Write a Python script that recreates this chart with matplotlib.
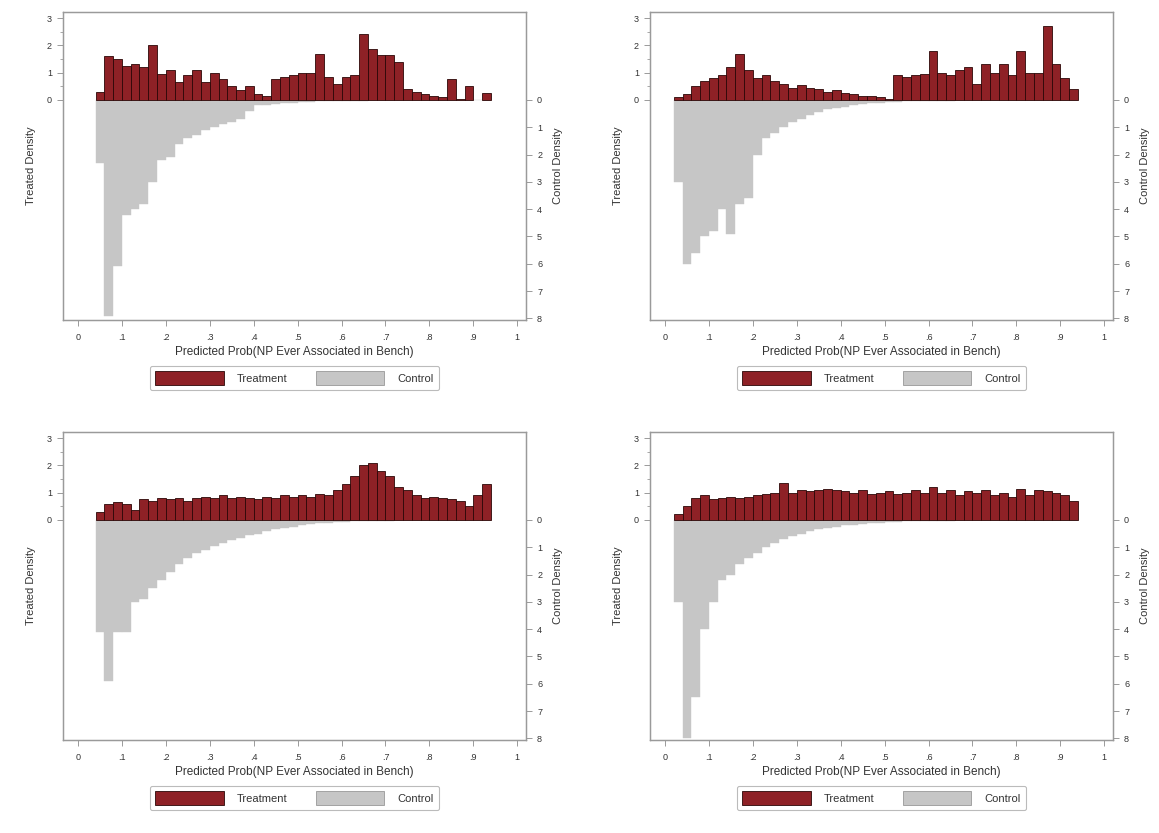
import numpy as np
import matplotlib
matplotlib.use("Agg")
import matplotlib.pyplot as plt
from matplotlib.patches import Patch

plt.rcParams['font.family'] = ['Liberation Sans', 'DejaVu Sans']

# ---------------- data ----------------
bin_width = 0.02
bin_left = np.round(np.arange(0, 1.0, bin_width), 2)   # 50 bins

x_ticks = [0, .1, .2, .3, .4, .5, .6, .7, .8, .9, 1]
x_tick_labels = ["0", ".1", ".2", ".3", ".4", ".5", ".6", ".7", ".8", ".9", "1"]
left_ticks = [0, 1, 2, 3]
left_tick_labels = ["0", "1", "2", "3"]
right_ticks = [0, 1, 2, 3, 4, 5, 6, 7, 8]
right_tick_labels = ["0", "1", "2", "3", "4", "5", "6", "7", "8"]

x_title = "Predicted Prob(NP Ever Associated in Bench)"
left_title = "Treated Density"
right_title = "Control Density"
legend_labels = ["Treatment", "Control"]

treated_tl = [0, 0, 0.3, 1.6, 1.5, 1.25, 1.3, 1.2, 2.0, 0.95,
              1.1, 0.65, 0.9, 1.1, 0.65, 1.0, 0.75, 0.5, 0.37, 0.5,
              0.2, 0.15, 0.75, 0.85, 0.9, 1.0, 1.0, 1.7, 0.85, 0.6,
              0.85, 0.9, 2.4, 1.85, 1.65, 1.65, 1.4, 0.4, 0.3, 0.22,
              0.15, 0.1, 0.75, 0.05, 0.5, 0.0, 0.25, 0, 0, 0]
control_tl = [0, 0, 2.3, 7.9, 6.1, 4.2, 4.0, 3.8, 3.0, 2.2,
              2.1, 1.6, 1.4, 1.3, 1.1, 1.0, 0.9, 0.8, 0.7, 0.4,
              0.2, 0.18, 0.15, 0.12, 0.1, 0.08, 0.06, 0.05, 0.04, 0.04,
              0.03, 0.03, 0.03, 0.02, 0.02, 0.02, 0.02, 0.01, 0.01, 0.01,
              0.01, 0.01, 0.01, 0.01, 0.01, 0.01, 0.01, 0, 0, 0]

treated_tr = [0, 0.1, 0.2, 0.5, 0.7, 0.8, 0.9, 1.2, 1.7, 1.1,
              0.8, 0.9, 0.7, 0.6, 0.45, 0.55, 0.45, 0.4, 0.3, 0.35,
              0.25, 0.2, 0.15, 0.15, 0.1, 0.05, 0.9, 0.85, 0.9, 0.95,
              1.8, 1.0, 0.9, 1.1, 1.2, 0.6, 1.3, 1.0, 1.3, 0.9,
              1.8, 1.0, 1.0, 2.7, 1.3, 0.8, 0.4, 0, 0, 0]
control_tr = [0, 3.0, 6.0, 5.6, 5.0, 4.8, 4.0, 4.9, 3.8, 3.6,
              2.0, 1.4, 1.2, 1.0, 0.8, 0.7, 0.55, 0.45, 0.35, 0.3,
              0.25, 0.2, 0.15, 0.12, 0.1, 0.08, 0.06, 0.05, 0.04, 0.04,
              0.03, 0.03, 0.03, 0.02, 0.02, 0.02, 0.02, 0.01, 0.01, 0.01,
              0.01, 0.01, 0.01, 0.01, 0.01, 0.01, 0.01, 0, 0, 0]

treated_bl = [0, 0, 0.3, 0.6, 0.65, 0.6, 0.35, 0.75, 0.7, 0.8,
              0.75, 0.8, 0.7, 0.8, 0.85, 0.8, 0.9, 0.8, 0.85, 0.8,
              0.75, 0.85, 0.8, 0.9, 0.85, 0.9, 0.85, 0.95, 0.9, 1.1,
              1.3, 1.6, 2.0, 2.1, 1.8, 1.6, 1.2, 1.1, 0.9, 0.8,
              0.85, 0.8, 0.75, 0.7, 0.5, 0.9, 1.3, 0, 0, 0]
control_bl = [0, 0, 4.1, 5.9, 4.1, 4.1, 3.0, 2.9, 2.5, 2.2,
              1.9, 1.6, 1.4, 1.2, 1.1, 0.95, 0.85, 0.75, 0.65, 0.55,
              0.5, 0.4, 0.35, 0.3, 0.25, 0.2, 0.15, 0.12, 0.1, 0.08,
              0.06, 0.05, 0.04, 0.04, 0.03, 0.03, 0.02, 0.02, 0.02, 0.02,
              0.01, 0.01, 0.01, 0.01, 0.01, 0.01, 0.01, 0, 0, 0]

treated_br = [0, 0.2, 0.5, 0.8, 0.9, 0.75, 0.8, 0.85, 0.8, 0.85,
              0.9, 0.95, 1.0, 1.35, 1.0, 1.1, 1.05, 1.1, 1.15, 1.1,
              1.05, 1.0, 1.1, 0.95, 1.0, 1.05, 0.95, 1.0, 1.1, 1.0,
              1.2, 1.0, 1.1, 0.9, 1.05, 1.0, 1.1, 0.9, 1.0, 0.85,
              1.15, 0.9, 1.1, 1.05, 1.0, 0.9, 0.7, 0, 0, 0]
control_br = [0, 3.0, 8.0, 6.5, 4.0, 3.0, 2.2, 2.0, 1.6, 1.4,
              1.2, 1.0, 0.85, 0.7, 0.6, 0.5, 0.4, 0.35, 0.3, 0.25,
              0.2, 0.17, 0.14, 0.12, 0.1, 0.08, 0.06, 0.05, 0.04, 0.04,
              0.03, 0.03, 0.03, 0.02, 0.02, 0.02, 0.02, 0.01, 0.01, 0.01,
              0.01, 0.01, 0.01, 0.01, 0.01, 0.01, 0.01, 0, 0, 0]

panels = [
    (treated_tl, control_tl),
    (treated_tr, control_tr),
    (treated_bl, control_bl),
    (treated_br, control_br),
]

# ---------------- style ----------------
W, H = 1159, 833
RED = "#8e2126"
RED_EDGE = "#2b0707"
GRAY = "#c6c6c6"
AXIS_C = "#9a9a9a"
TEXT_C = "#333333"

# panel boxes in pixels: (left, top, right, bottom)
boxes = [(63, 12, 526, 320), (650, 12, 1113, 320),
         (63, 432, 526, 740), (650, 432, 1113, 740)]
LEGEND_OFFSET = 366  # legend centre below panel top, pixels

fig = plt.figure(figsize=(W / 100, H / 100), dpi=100)
fig.patch.set_facecolor("white")

for (treated, control), (l, t, r, b) in zip(panels, boxes):
    ax = fig.add_axes([l / W, 1 - b / H, (r - l) / W, (b - t) / H])
    tr = np.array(treated, dtype=float)
    co = np.array(control, dtype=float)
    mc = co > 0
    ax.bar(bin_left[mc], -co[mc], width=bin_width, align="edge",
           color=GRAY, edgecolor=GRAY, linewidth=0.3, zorder=2)
    mt = tr > 0
    ax.bar(bin_left[mt], tr[mt], width=bin_width, align="edge",
           color=RED, edgecolor=RED_EDGE, linewidth=0.6, zorder=3)

    ax.set_xlim(-0.034, 1.02)
    ax.set_ylim(-8.06, 3.22)
    ax.set_xticks(x_ticks)
    ax.set_xticklabels(x_tick_labels)
    ax.set_yticks(left_ticks)
    ax.set_yticklabels(left_tick_labels)
    ax.set_yticks([0.5, 1.5, 2.5], minor=True)
    ax.tick_params(axis="x", length=4, width=0.7, color=AXIS_C, labelsize=6.5,
                   labelcolor=TEXT_C, pad=5)
    ax.tick_params(axis="y", which="major", length=4, width=0.7, color=AXIS_C,
                   labelsize=6.5, labelcolor=TEXT_C, pad=4)
    ax.tick_params(axis="y", which="minor", length=2, width=0.6, color=AXIS_C)
    for s in ax.spines.values():
        s.set_color(AXIS_C)
        s.set_linewidth(0.9)
    ax.set_xlabel(x_title, fontsize=8.5, color=TEXT_C, labelpad=3)
    ax.set_ylabel(left_title, fontsize=8, color=TEXT_C, labelpad=8)

    ax2 = ax.twinx()
    ax2.set_ylim(ax.get_ylim())
    ax2.set_yticks([-v for v in right_ticks])
    ax2.set_yticklabels(right_tick_labels)
    ax2.tick_params(axis="y", length=4, width=0.7, color=AXIS_C, labelsize=6.5,
                    labelcolor=TEXT_C, pad=4)
    for s in ax2.spines.values():
        s.set_color(AXIS_C)
        s.set_linewidth(0.9)
    ax2.set_ylabel(right_title, fontsize=8, color=TEXT_C, labelpad=8)

    handles = [Patch(facecolor=RED, edgecolor=RED_EDGE, linewidth=0.6),
               Patch(facecolor=GRAY, edgecolor="#999999", linewidth=0.6)]
    leg_y = (b - (t + LEGEND_OFFSET)) / (b - t)
    leg = ax.legend(handles, legend_labels, ncol=2, loc="center",
                    bbox_to_anchor=(0.5, leg_y),
                    fontsize=8, frameon=True, fancybox=True,
                    handlelength=6.2, handleheight=1.6, columnspacing=2.5,
                    handletextpad=1.2, borderpad=0.45)
    leg.get_frame().set_edgecolor("#aaaaaa")
    leg.get_frame().set_linewidth(0.8)
    for txt in leg.get_texts():
        txt.set_color(TEXT_C)

fig.savefig("out.png", dpi=100, facecolor="white")
